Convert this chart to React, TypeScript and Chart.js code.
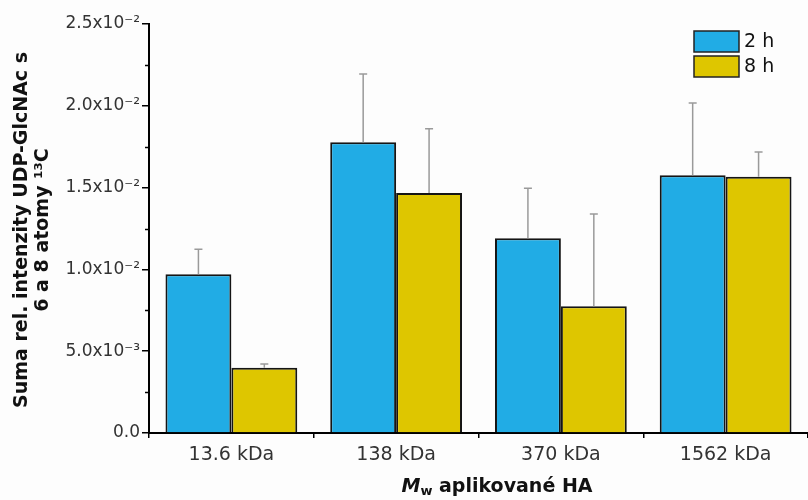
import React, { useEffect, useRef } from "react";
import { Chart, registerables } from "chart.js";

Chart.register(...registerables);

const categories = ["13.6 kDa", "138 kDa", "370 kDa", "1562 kDa"];
const seriesNames = ["2 h", "8 h"];
const values2h = [0.0097, 0.01777, 0.0119, 0.01575];
const values8h = [0.00399, 0.01467, 0.00774, 0.01567];
const errors2h = [0.00153, 0.00417, 0.00306, 0.00442];
const errors8h = [0.00023, 0.00393, 0.00565, 0.00151];
const yTickLabels: Record<string, string> = {
  "0": "0.0",
  "0.005": "5.0x10⁻³",
  "0.01": "1.0x10⁻²",
  "0.015": "1.5x10⁻²",
  "0.02": "2.0x10⁻²",
  "0.025": "2.5x10⁻²",
};
const yTitleLines = ["Suma rel. intenzity UDP-GlcNAc s", "6 a 8 atomy ¹³C"];
const xTitleParts = ["M", "w", " aplikované HA"];

const BLUE = "#21ace5";
const YELLOW = "#dec600";
const FONT = "'DejaVu Sans', sans-serif";

const errorBars = {
  id: "errorBars",
  afterDatasetsDraw(chart: any) {
    const ctx = chart.ctx;
    const y = chart.scales.y;
    const errs = [errors2h, errors8h];
    ctx.save();
    ctx.strokeStyle = "#9a9a9a";
    ctx.lineWidth = 1.5;
    chart.data.datasets.forEach((ds: any, di: number) => {
      const meta = chart.getDatasetMeta(di);
      meta.data.forEach((el: any, i: number) => {
        const top = y.getPixelForValue(ds.data[i] + errs[di][i]);
        ctx.beginPath();
        ctx.moveTo(el.x, el.y);
        ctx.lineTo(el.x, top);
        ctx.moveTo(el.x - 4, top);
        ctx.lineTo(el.x + 4, top);
        ctx.stroke();
      });
    });
    ctx.restore();
  },
};

const decorations = {
  id: "decorations",
  afterDraw(chart: any) {
    const ctx = chart.ctx;
    const area = chart.chartArea;
    const y = chart.scales.y;
    ctx.save();
    // minor ticks
    ctx.strokeStyle = "#000";
    ctx.lineWidth = 1.5;
    [0.0025, 0.0075, 0.0125, 0.0175, 0.0225].forEach((v) => {
      const py = Math.round(y.getPixelForValue(v)) + 0.5;
      ctx.beginPath();
      ctx.moveTo(area.left - 4, py);
      ctx.lineTo(area.left, py);
      ctx.stroke();
    });
    // legend
    const lx = 694, lw = 45, lh = 21;
    const ly = [31, 56];
    const cols = [BLUE, YELLOW];
    ctx.font = `19px ${FONT}`;
    ctx.textBaseline = "middle";
    ctx.textAlign = "left";
    seriesNames.forEach((n, i) => {
      ctx.fillStyle = cols[i];
      ctx.fillRect(lx, ly[i], lw, lh);
      ctx.strokeStyle = "#222";
      ctx.lineWidth = 1.5;
      ctx.strokeRect(lx, ly[i], lw, lh);
      ctx.fillStyle = "#111";
      ctx.fillText(n, lx + lw + 5, ly[i] + lh / 2 + 1);
    });
    // y title
    ctx.fillStyle = "#111";
    ctx.font = `bold 19px ${FONT}`;
    ctx.textAlign = "center";
    ctx.textBaseline = "middle";
    ctx.save();
    ctx.translate(0, 230);
    ctx.rotate(-Math.PI / 2);
    ctx.fillText(yTitleLines[0], 0, 22);
    ctx.fillText(yTitleLines[1], 0, 43);
    ctx.restore();
    // x title
    const cx = 497;
    const ty = 487;
    ctx.textAlign = "left";
    ctx.textBaseline = "middle";
    const fM = `italic bold 19px ${FONT}`;
    const fW = `bold 13px ${FONT}`;
    const fR = `bold 19px ${FONT}`;
    ctx.font = fM;
    const wM = ctx.measureText(xTitleParts[0]).width;
    ctx.font = fW;
    const wW = ctx.measureText(xTitleParts[1]).width;
    ctx.font = fR;
    const wR = ctx.measureText(xTitleParts[2]).width;
    let x0 = cx - (wM + wW + wR) / 2;
    ctx.font = fM;
    ctx.fillText(xTitleParts[0], x0, ty);
    x0 += wM;
    ctx.font = fW;
    ctx.fillText(xTitleParts[1], x0, ty + 5);
    x0 += wW;
    ctx.font = fR;
    ctx.fillText(xTitleParts[2], x0, ty);
    ctx.restore();
  },
};

export default function App() {
  const ref = useRef<HTMLCanvasElement>(null);
  useEffect(() => {
    document.body.style.margin = "0";
    const chart = new Chart(ref.current as HTMLCanvasElement, {
      type: "bar",
      data: {
        labels: categories,
        datasets: [
          {
            label: seriesNames[0],
            data: values2h,
            backgroundColor: BLUE,
            borderColor: "#151515",
            borderWidth: 2,
            categoryPercentage: 0.8,
            barPercentage: 1,
          },
          {
            label: seriesNames[1],
            data: values8h,
            backgroundColor: YELLOW,
            borderColor: "#151515",
            borderWidth: 2,
            categoryPercentage: 0.8,
            barPercentage: 1,
          },
        ],
      },
      options: {
        animation: false,
        responsive: true,
        maintainAspectRatio: false,
        layout: { padding: { top: 24, right: 0, left: 0, bottom: 0 } },
        plugins: { legend: { display: false }, tooltip: { enabled: false } },
        scales: {
          x: {
            grid: { offset: true, drawOnChartArea: false, tickLength: 5, color: "#000", lineWidth: 1.5 },
            border: { color: "#000", width: 2 },
            ticks: { font: { family: FONT, size: 19 }, color: "#333", padding: 6 },
            afterFit: (s: any) => {
              s.height = 67;
            },
          },
          y: {
            min: 0,
            max: 0.025,
            grid: { drawOnChartArea: false, tickLength: 7, color: "#000", lineWidth: 1.5 },
            border: { color: "#000", width: 2 },
            ticks: {
              stepSize: 0.005,
              font: { family: FONT, size: 17 },
              color: "#333",
              padding: 2,
              callback: (v: any) => {
                const key = String(Math.round(Number(v) * 10000) / 10000);
                return yTickLabels[key] ?? "";
              },
            },
            afterFit: (s: any) => {
              s.width = 149;
            },
          },
        },
      },
      plugins: [errorBars, decorations],
    });
    return () => chart.destroy();
  }, []);
  return (
    <div style={{ position: "absolute", left: 0, top: 0, width: 808, height: 500, background: "#fdfdfd" }}>
      <canvas ref={ref} />
    </div>
  );
}
